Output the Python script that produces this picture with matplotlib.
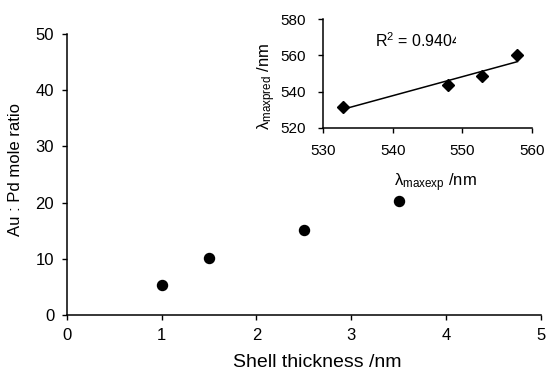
import matplotlib
matplotlib.use("Agg")
import matplotlib.pyplot as plt
import numpy as np
from matplotlib.transforms import Bbox, TransformedBbox

plt.rcParams['font.family'] = ['Liberation Sans', 'DejaVu Sans']
plt.rcParams['mathtext.fontset'] = 'custom'
plt.rcParams['mathtext.rm'] = 'Liberation Sans'
plt.rcParams['mathtext.it'] = 'Liberation Sans:italic'

# Main data
shell_thickness = [1.0, 1.5, 2.5, 3.5]
mole_ratio = [5.3, 10.2, 15.2, 20.3]

# Inset data
lam_exp = [532.9, 548.0, 552.8, 557.9]
lam_pred = [531.7, 543.7, 548.7, 560.0]
r2_text = "R$^{2}$ = 0.9404"

main_xticks = [0, 1, 2, 3, 4, 5]
main_yticks = [0, 10, 20, 30, 40, 50]
inset_xticks = [530, 540, 550, 560]
inset_yticks = [520, 540, 560, 580]

W, H = 550, 372
fig = plt.figure(figsize=(W / 100, H / 100), dpi=100)

def frac(l, r, t, b):
    return [l / W, (H - b) / H, (r - l) / W, (b - t) / H]

ax = fig.add_axes(frac(66.7, 541, 33.7, 315.3))
ax.scatter(shell_thickness, mole_ratio, s=10 ** 2 * 0.52, color='black', zorder=3, clip_on=False)
ax.set_xlim(0, 5)
ax.set_ylim(0, 50)
ax.set_xticks(main_xticks)
ax.set_yticks(main_yticks)
for s in ['top', 'right']:
    ax.spines[s].set_visible(False)
for s in ['left', 'bottom']:
    ax.spines[s].set_linewidth(1.1)
ax.tick_params(direction='out', length=3.5, width=1.0, labelsize=12, pad=5.5)
ax.set_xlabel("Shell thickness /nm", fontsize=14)
ax.xaxis.set_label_coords(0.528, -0.136)
ax.set_ylabel("Au : Pd mole ratio", fontsize=12)
ax.yaxis.set_label_coords(-0.092, 0.516)

# Inset
ai = fig.add_axes(frac(323, 532, 19.3, 127.7))
ai.set_xlim(530, 560)
ai.set_ylim(520, 580)
coef = np.polyfit(lam_exp, lam_pred, 1)
xf = np.array([min(lam_exp), max(lam_exp)])
ai.plot(xf, np.polyval(coef, xf), color='black', lw=1.1, zorder=2)
ai.plot(lam_exp, lam_pred, linestyle='none', marker='D', ms=6.6, color='black', zorder=3, clip_on=False)
ai.set_xticks(inset_xticks)
ai.set_yticks(inset_yticks)
for s in ['top', 'right']:
    ai.spines[s].set_visible(False)
for s in ['left', 'bottom']:
    ai.spines[s].set_linewidth(1.1)
ai.tick_params(direction='out', length=3.5, width=1.0, labelsize=11, pad=8.5)
ai.set_xlabel("\u03bb$_{\\mathrm{maxexp}}$ /nm", fontsize=12)
ai.xaxis.set_label_coords(0.54, -0.40)
ai.set_ylabel("\u03bb$_{\\mathrm{maxpred}}$ /nm", fontsize=12)
ai.yaxis.set_label_coords(-0.215, 0.385)
t = ai.text(0.249, 0.80, r2_text, transform=ai.transAxes, fontsize=11.5,
            ha='left', va='center')
t.set_clip_on(True)
t.set_clip_box(TransformedBbox(Bbox([[0.0, 0.0], [0.638, 1.2]]), ai.transAxes))

fig.savefig("out.png", dpi=100)
